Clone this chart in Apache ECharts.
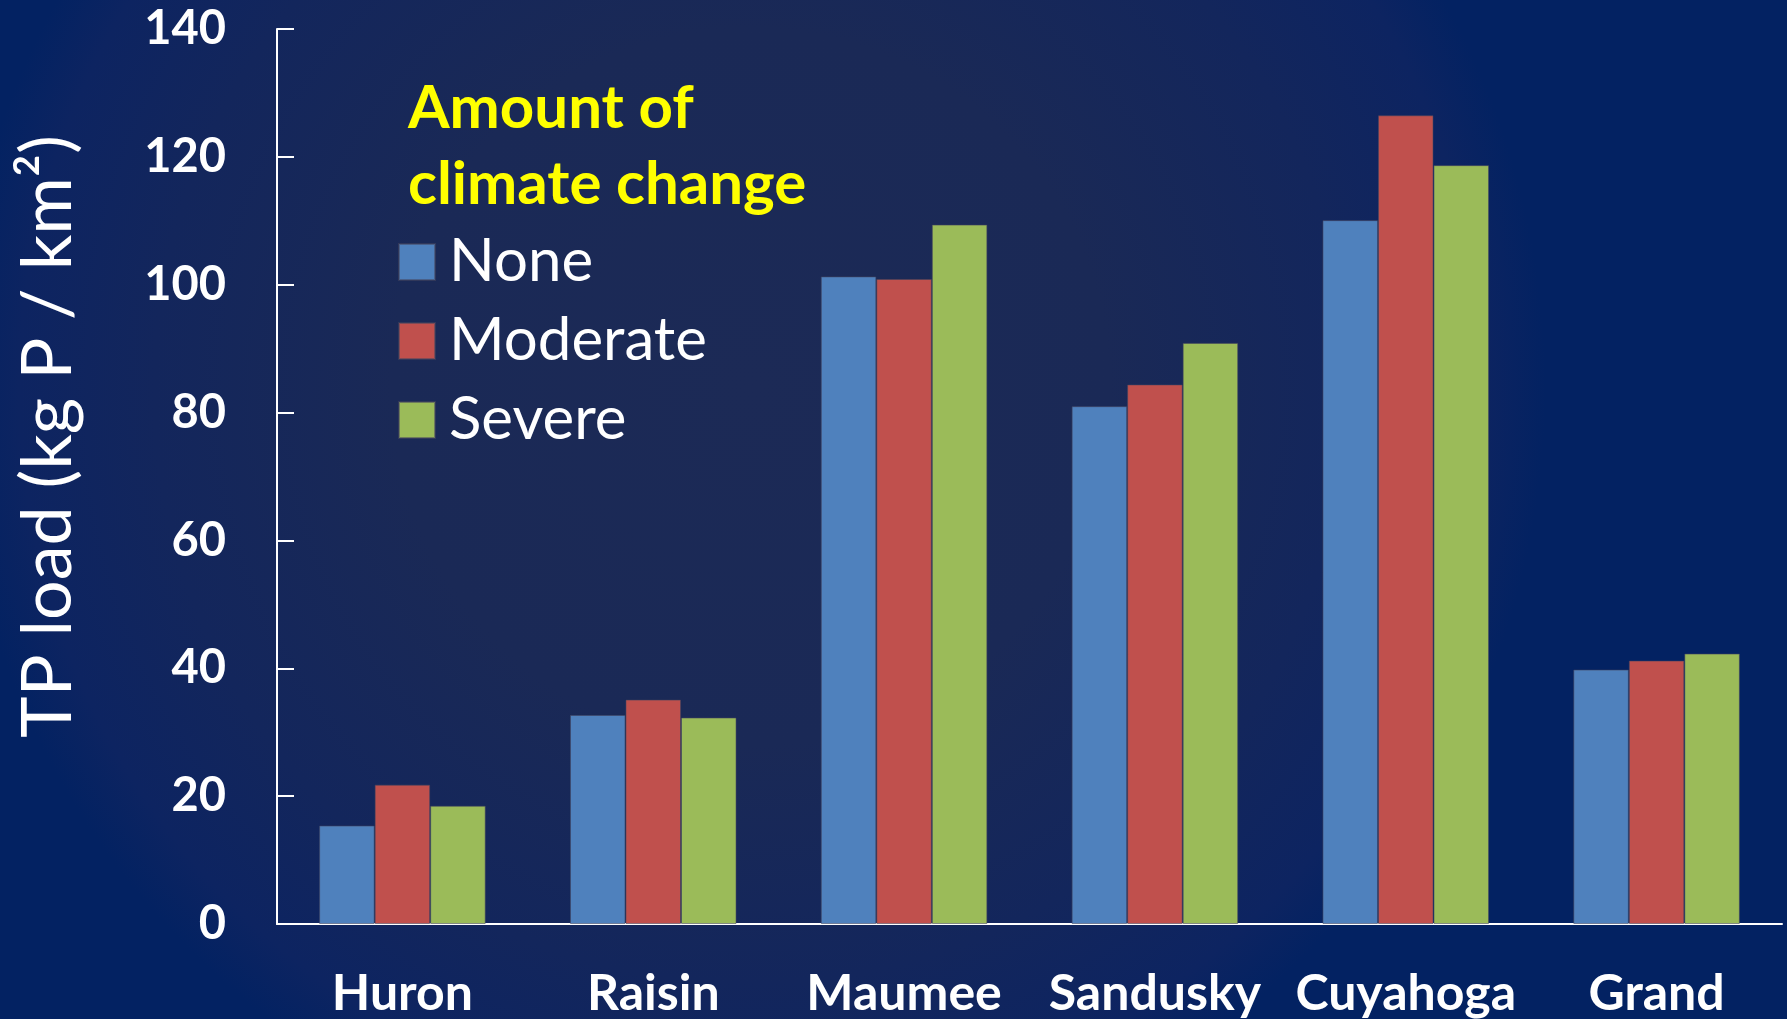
<!DOCTYPE html>
<html>
<head>
<meta charset="utf-8">
<title>TP load by watershed</title>
<script src="https://cdn.jsdelivr.net/npm/echarts@6/dist/echarts.min.js"></script>
<style>
  html, body { margin: 0; padding: 0; width: 100%; height: 100%; overflow: hidden; }
  #chart { width: 1787px; height: 1019px; }
</style>
</head>
<body>
<div id="chart"></div>
<script>
// Watersheds and total phosphorus load per scenario (kg P / km²)
const rivers = ['Huron', 'Raisin', 'Maumee', 'Sandusky', 'Cuyahoga', 'Grand'];
const noneLoad = [15.4, 32.7, 101.3, 81.0, 110.1, 39.8];
const moderateLoad = [21.8, 35.1, 100.9, 84.4, 126.5, 41.2];
const severeLoad = [18.5, 32.3, 109.4, 90.9, 118.7, 42.3];
const seriesNames = ['None', 'Moderate', 'Severe'];
const yTicks = [0, 20, 40, 60, 80, 100, 120, 140];

const colors = ['#4F81BD', '#C0504D', '#9BBB59'];
const labelFont = 'Lato, "Open Sans", sans-serif';

const chart = echarts.init(document.getElementById('chart'));

function barSeries(name, data, color) {
  return {
    name: name,
    type: 'bar',
    data: data,
    barGap: '0%',
    barCategoryGap: '33.6%',
    itemStyle: { color: color, borderColor: 'rgba(70,70,95,0.55)', borderWidth: 1 },
    emphasis: { disabled: true }
  };
}

chart.setOption({
  backgroundColor: {
    type: 'radial', x: 0.42, y: 0.38, r: 0.78,
    colorStops: [
      { offset: 0, color: '#1c2a56' },
      { offset: 0.45, color: '#1a2956' },
      { offset: 0.75, color: '#13265c' },
      { offset: 0.92, color: '#0d2461' },
      { offset: 1, color: '#032262' }
    ]
  },
  animation: false,
  title: {
    text: 'Amount of\nclimate change',
    left: 408,
    top: 71,
    padding: 0,
    textStyle: {
      color: '#FFFF00',
      fontFamily: labelFont,
      fontWeight: 'bold',
      fontSize: 60,
      lineHeight: 76
    }
  },
  legend: {
    orient: 'vertical',
    left: 398,
    top: 232,
    padding: 0,
    itemWidth: 36,
    itemHeight: 36,
    itemGap: 19,
    icon: 'rect',
    data: seriesNames,
    selectedMode: false,
    textStyle: {
      color: '#ffffff',
      fontFamily: labelFont,
      fontSize: 60,
      padding: [0, 0, 0, 9]
    }
  },
  grid: { left: 277, right: 5, top: 29, bottom: 94, containLabel: false },
  xAxis: {
    type: 'category',
    data: rivers,
    axisLine: { lineStyle: { color: '#ffffff', width: 2 } },
    axisTick: { show: false },
    axisLabel: {
      color: '#ffffff',
      fontFamily: labelFont,
      fontWeight: 'bold',
      fontSize: 50,
      margin: 45,
      interval: 0
    },
    splitLine: { show: false }
  },
  yAxis: {
    type: 'value',
    min: yTicks[0],
    max: yTicks[yTicks.length - 1],
    interval: yTicks[1] - yTicks[0],
    name: 'TP load (kg P / km²)',
    nameLocation: 'middle',
    nameGap: 194,
    nameTextStyle: {
      color: '#ffffff',
      fontFamily: labelFont,
      fontSize: 70,
      padding: [0, 0, 0, 80]
    },
    axisLine: { show: true, lineStyle: { color: '#ffffff', width: 2 } },
    axisTick: { show: true, inside: true, length: 17, lineStyle: { color: '#ffffff', width: 2 } },
    axisLabel: {
      color: '#ffffff',
      fontFamily: labelFont,
      fontWeight: 'bold',
      fontSize: 47,
      margin: 51
    },
    splitLine: { show: false }
  },
  series: [
    barSeries(seriesNames[0], noneLoad, colors[0]),
    barSeries(seriesNames[1], moderateLoad, colors[1]),
    barSeries(seriesNames[2], severeLoad, colors[2])
  ]
});
</script>
</body>
</html>
